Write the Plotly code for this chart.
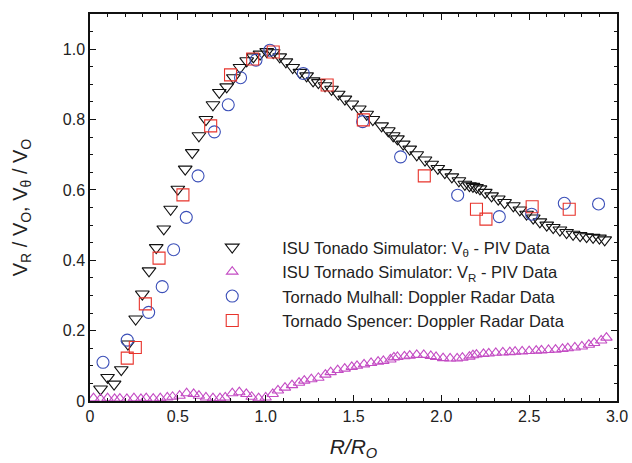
import plotly.graph_objects as go

# ISU Tornado Simulator: tangential velocity V_theta / V_O (PIV)
vt_r = [0.06, 0.10, 0.137, 0.178, 0.216, 0.26, 0.298, 0.336, 0.377, 0.42, 0.459, 0.50,
        0.542, 0.582, 0.62, 0.66, 0.70, 0.736, 0.778, 0.816, 0.854, 0.892, 0.93, 0.968,
        1.006, 1.043, 1.08, 1.115, 1.154, 1.195, 1.233, 1.27, 1.30, 1.338, 1.375, 1.413,
        1.451, 1.49, 1.533, 1.575, 1.61, 1.66, 1.698, 1.726, 1.75, 1.783, 1.82, 1.86,
        1.907, 1.945, 1.98, 2.02, 2.06, 2.10, 2.134, 2.16, 2.18, 2.20, 2.22, 2.25, 2.286,
        2.324, 2.36, 2.41, 2.447, 2.485, 2.523, 2.561, 2.60, 2.637, 2.675, 2.713, 2.75,
        2.79, 2.827, 2.864, 2.90, 2.93]
vt_v = [0.034, 0.067, 0.048, 0.089, 0.162, 0.233, 0.304, 0.37, 0.436, 0.489, 0.545, 0.602,
        0.659, 0.706, 0.754, 0.80, 0.842, 0.877, 0.893, 0.919, 0.948, 0.967, 0.978, 0.986,
        0.993, 0.99, 0.978, 0.964, 0.948, 0.934, 0.924, 0.91, 0.905, 0.896, 0.886, 0.872,
        0.858, 0.844, 0.83, 0.815, 0.80, 0.782, 0.768, 0.754, 0.745, 0.73, 0.716, 0.70,
        0.685, 0.673, 0.661, 0.649, 0.637, 0.626, 0.616, 0.612, 0.61, 0.607, 0.603, 0.593,
        0.583, 0.574, 0.564, 0.555, 0.543, 0.531, 0.52, 0.509, 0.50, 0.493, 0.486, 0.479,
        0.474, 0.47, 0.467, 0.465, 0.463, 0.458]

# ISU Tornado Simulator: radial velocity V_R / V_O (PIV)
vr_r = [0.02, 0.06, 0.10, 0.14, 0.17, 0.21, 0.25, 0.29, 0.32, 0.36, 0.40, 0.44, 0.47,
        0.51, 0.55, 0.59, 0.62, 0.66, 0.70, 0.74, 0.77, 0.81, 0.85, 0.89, 0.92, 0.96,
        1.00, 1.04, 1.07, 1.11, 1.15, 1.19, 1.22, 1.26, 1.30, 1.34, 1.37, 1.41, 1.45,
        1.49, 1.52, 1.56, 1.60, 1.64, 1.67, 1.71, 1.73, 1.75, 1.79, 1.82, 1.86, 1.90,
        1.94, 1.97, 2.01, 2.05, 2.09, 2.12, 2.16, 2.18, 2.20, 2.24, 2.27, 2.31, 2.35,
        2.39, 2.42, 2.46, 2.50, 2.54, 2.57, 2.61, 2.65, 2.69, 2.72, 2.76, 2.80, 2.84,
        2.87, 2.91, 2.94]
vr_v = [0.008, 0.006, 0.008, 0.006, 0.007, 0.006, 0.008, 0.006, 0.008, 0.007, 0.008, 0.01,
        0.012, 0.015, 0.022, 0.02, 0.015, 0.01, 0.008, 0.008, 0.01, 0.022, 0.025, 0.02,
        0.012, 0.008, 0.01, 0.02, 0.03, 0.038, 0.045, 0.052, 0.058, 0.062, 0.066, 0.075,
        0.082, 0.088, 0.092, 0.097, 0.10, 0.104, 0.108, 0.112, 0.114, 0.118, 0.124, 0.125,
        0.127, 0.129, 0.131, 0.131, 0.128, 0.125, 0.122, 0.121, 0.121, 0.123, 0.126, 0.13,
        0.132, 0.134, 0.135, 0.137, 0.138, 0.139, 0.14, 0.141, 0.142, 0.143, 0.144, 0.145,
        0.146, 0.148, 0.15, 0.152, 0.155, 0.16, 0.165, 0.172, 0.18]

# Tornado Mulhall: Doppler radar
mulhall_r = [0.074, 0.212, 0.334, 0.411, 0.476, 0.548, 0.615, 0.708, 0.787, 0.857, 0.945,
             1.024, 1.214, 1.552, 1.768, 2.093, 2.33, 2.514, 2.70, 2.895]
mulhall_v = [0.11, 0.173, 0.252, 0.325, 0.43, 0.522, 0.64, 0.765, 0.842, 0.919, 0.969,
             0.997, 0.931, 0.794, 0.694, 0.585, 0.524, 0.531, 0.562, 0.56]

# Tornado Spencer: Doppler radar
spencer_r = [0.212, 0.258, 0.315, 0.393, 0.529, 0.687, 0.80, 0.926, 1.043, 1.35, 1.556,
             1.903, 2.20, 2.254, 2.517, 2.728]
spencer_v = [0.122, 0.152, 0.276, 0.406, 0.586, 0.782, 0.927, 0.972, 0.992, 0.898, 0.799,
             0.64, 0.545, 0.517, 0.552, 0.545]

x_ticks = [0, 0.5, 1.0, 1.5, 2.0, 2.5, 3.0]
x_labels = ["0", "0.5", "1.0", "1.5", "2.0", "2.5", "3.0"]
y_ticks = [0, 0.2, 0.4, 0.6, 0.8, 1.0]
y_labels = ["0", "0.2", "0.4", "0.6", "0.8", "1.0"]

FONT = "Liberation Sans, Arial, Helvetica, sans-serif"
TEXT = "#222222"

fig = go.Figure()
fig.add_trace(go.Scatter(
    x=vt_r, y=vt_v, mode="markers",
    name="ISU Tonado Simulator: V<sub>θ</sub> - PIV Data",
    marker=dict(symbol="triangle-down-open", size=12, color="#111111",
                line=dict(width=1.1))))
fig.add_trace(go.Scatter(
    x=vr_r, y=vr_v, mode="markers",
    name="ISU Tornado Simulator: V<sub>R</sub> - PIV Data",
    marker=dict(symbol="triangle-up-open", size=10, color="#c44cc4",
                line=dict(width=1.1))))
fig.add_trace(go.Scatter(
    x=mulhall_r, y=mulhall_v, mode="markers",
    name="Tornado Mulhall: Doppler Radar Data",
    marker=dict(symbol="circle-open", size=12, color="#3b4fb8",
                line=dict(width=1.1))))
fig.add_trace(go.Scatter(
    x=spencer_r, y=spencer_v, mode="markers",
    name="Tornado Spencer: Doppler Radar Data",
    marker=dict(symbol="square-open", size=12, color="#e8332b",
                line=dict(width=1.1))))

axis_common = dict(
    showgrid=False, zeroline=False,
    showline=True, linecolor="#111111", linewidth=1.5, mirror="allticks",
    ticks="inside", ticklen=6, tickwidth=1, tickcolor="#111111",
    tickfont=dict(family=FONT, size=16, color=TEXT),
)

fig.update_xaxes(
    range=[0, 3.0], tickvals=x_ticks, ticktext=x_labels, automargin=False,
    minor=dict(dtick=0.1, ticks="inside", ticklen=3, tickcolor="#111111"),
    title=dict(text="<i>R/R<sub>O</sub></i>",
               font=dict(family=FONT, size=21, color=TEXT)),
    **axis_common)
fig.update_yaxes(
    range=[0, 1.1], tickvals=y_ticks, ticktext=y_labels, automargin=True,
    minor=dict(dtick=0.05, ticks="inside", ticklen=3, tickcolor="#111111"),
    title=dict(text="V<sub>R</sub> / V<sub>O</sub>, V<sub>θ</sub> / V<sub>O</sub>",
               font=dict(family=FONT, size=20, color=TEXT), standoff=30),
    **axis_common)

fig.update_layout(
    width=632, height=463,
    margin=dict(l=90, r=15, t=14, b=62),
    paper_bgcolor="white", plot_bgcolor="white",
    font=dict(family=FONT, color=TEXT),
    legend=dict(
        x=0.175, y=0.442, xanchor="left", yanchor="top",
        bgcolor="rgba(0,0,0,0)", borderwidth=0,
        font=dict(family=FONT, size=16.5, color=TEXT),
        itemwidth=90, tracegroupgap=0,
    ),
)

fig.write_html("out.html")
